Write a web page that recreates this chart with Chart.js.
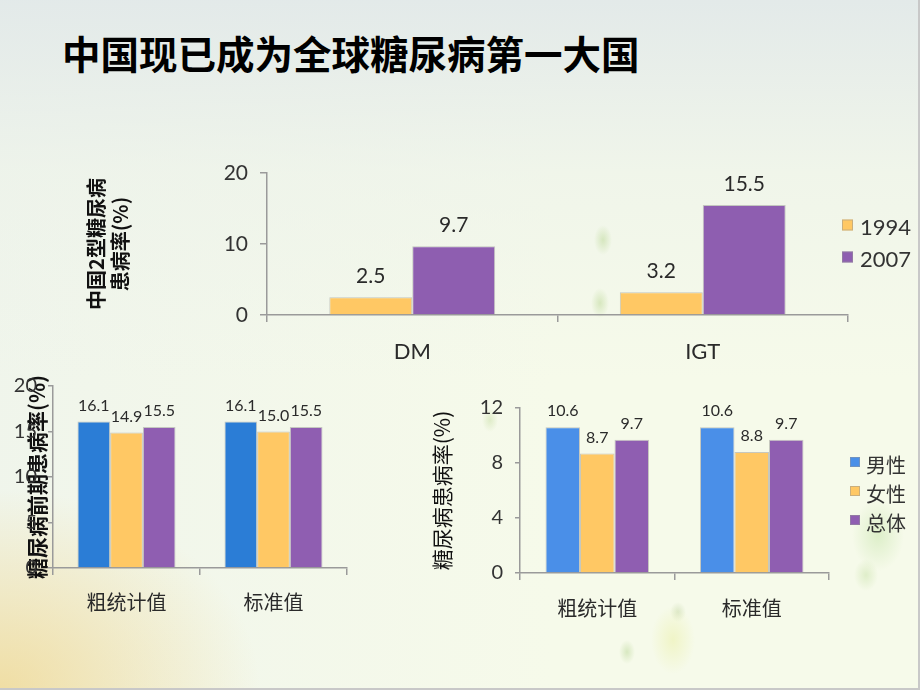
<!DOCTYPE html>
<html>
<head>
<meta charset="utf-8">
<script src="https://cdn.jsdelivr.net/npm/chart.js@4.4.1/dist/chart.umd.min.js"></script>
<style>
html,body{margin:0;padding:0;}
body{
  width:920px;height:690px;position:relative;overflow:hidden;
  background:
    radial-gradient(ellipse 9px 15px at 603px 240px, rgba(160,200,110,0.35), rgba(160,200,110,0) 100%),
    radial-gradient(ellipse 9px 15px at 600px 303px, rgba(160,200,110,0.35), rgba(160,200,110,0) 100%),
    radial-gradient(ellipse 8px 12px at 490px 420px, rgba(170,205,120,0.3), rgba(170,205,120,0) 100%),
    radial-gradient(ellipse 26px 36px at 878px 535px, rgba(190,225,160,0.45), rgba(190,225,160,0) 100%),
    radial-gradient(ellipse 12px 16px at 866px 575px, rgba(180,215,140,0.35), rgba(180,215,140,0) 100%),
    radial-gradient(ellipse 8px 12px at 627px 652px, rgba(170,205,130,0.4), rgba(170,205,130,0) 100%),
    radial-gradient(ellipse 22px 34px at 673px 640px, rgba(235,240,170,0.55), rgba(235,240,170,0) 100%),
    radial-gradient(ellipse 8px 10px at 678px 612px, rgba(190,210,160,0.45), rgba(190,210,160,0) 100%),
    radial-gradient(ellipse 260px 200px at 0px 690px, rgba(240,214,140,0.75), rgba(240,214,140,0) 100%),
    linear-gradient(180deg, rgba(226,233,233,0.95) 0%, rgba(236,242,234,0.6) 25%, rgba(244,249,232,0) 55%),
    linear-gradient(90deg, rgba(236,242,236,0.6) 0%, rgba(246,250,238,0) 60%),
    #f6faea;
}
#frame{position:absolute;left:0;top:0;width:918px;height:688px;border-right:2px solid #c8c8c8;border-bottom:2px solid #c8c8c8;pointer-events:none;}
#title{position:absolute;left:62px;top:33px;margin:0;font-family:'Noto Sans CJK SC',sans-serif;font-weight:bold;font-size:38.5px;line-height:38px;color:#000;letter-spacing:0;white-space:nowrap;}
canvas{position:absolute;left:0;top:0;}
</style>
</head>
<body>
<div id="title">中国现已成为全球糖尿病第一大国</div>
<canvas id="c1" width="920" height="690"></canvas>
<canvas id="c2" width="920" height="690"></canvas>
<canvas id="c3" width="920" height="690"></canvas>
<div id="frame"></div>
<script>
// ---------- data ----------
const topCategories = ['DM', 'IGT'];
const topSeriesNames = ['1994', '2007'];
const top1994 = [2.5, 3.2];
const top2007 = [9.7, 15.5];
const topYTitle = ['中国2型糖尿病', '患病率(%)'];

const groupCategories = ['粗统计值', '标准值'];
const groupSeriesNames = ['男性', '女性', '总体'];
const preMale = [16.1, 16.1];
const preFemale = [14.9, 15.0];
const preTotal = [15.5, 15.5];
const preYTitle = '糖尿病前期患病率(%)';

const dmMale = [10.6, 10.6];
const dmFemale = [8.7, 8.8];
const dmTotal = [9.7, 9.7];
const dmYTitle = '糖尿病患病率(%)';

// ---------- helpers ----------
const NUM_FONT = "Lato, 'Noto Sans CJK SC', sans-serif";
const CJK_FONT = "'Noto Sans CJK SC', sans-serif";
const AXIS_COLOR = '#9a9a9a';
const TEXT_COLOR = '#2a2a2a';

const valueLabels = {
  id: 'valueLabels',
  afterDatasetsDraw(chart, args, opts) {
    const ctx = chart.ctx;
    ctx.save();
    ctx.font = opts.font;
    ctx.fillStyle = opts.color;
    ctx.textAlign = 'center';
    ctx.textBaseline = 'middle';
    chart.data.datasets.forEach((ds, di) => {
      const meta = chart.getDatasetMeta(di);
      meta.data.forEach((el, i) => {
        ctx.fillText(ds.data[i].toFixed(1), el.x, el.y - opts.offset);
      });
    });
    ctx.restore();
  }
};

const sideLegend = {
  id: 'sideLegend',
  afterDraw(chart, args, opts) {
    if (!opts || !opts.show) return;
    const ctx = chart.ctx;
    ctx.save();
    ctx.font = opts.font;
    ctx.textBaseline = 'middle';
    ctx.textAlign = 'left';
    chart.data.datasets.forEach((ds, i) => {
      const cy = opts.y + i * opts.row;
      ctx.fillStyle = ds.backgroundColor;
      ctx.fillRect(opts.x, cy - opts.box / 2 + opts.boxShift, opts.box, opts.box);
      ctx.strokeStyle = 'rgba(150,150,150,0.5)';
      ctx.lineWidth = 1;
      ctx.strokeRect(opts.x + 0.5, cy - opts.box / 2 + opts.boxShift + 0.5, opts.box - 1, opts.box - 1);
      ctx.fillStyle = opts.color;
      ctx.fillText(ds.label, opts.textX, cy);
    });
    ctx.restore();
  }
};

function makeBarChart(id, cfg) {
  const a = cfg.area;
  const xH = 60;
  const yW = a.left - cfg.yBoxLeft;
  return new Chart(document.getElementById(id), {
    type: 'bar',
    data: {
      labels: cfg.labels,
      datasets: cfg.series.map(s => ({
        label: s.label,
        data: s.data,
        backgroundColor: s.color,
        borderColor: 'rgba(140,140,140,0.45)',
        borderWidth: 1,
        borderSkipped: 'bottom',
        categoryPercentage: cfg.catPct,
        barPercentage: 1
      }))
    },
    options: {
      responsive: false,
      animation: false,
      devicePixelRatio: 1,
      layout: { padding: { left: cfg.yBoxLeft, right: 920 - a.right, top: a.top, bottom: 690 - a.bottom - xH } },
      plugins: {
        legend: { display: false },
        tooltip: { enabled: false },
        valueLabels: cfg.valueLabels,
        sideLegend: cfg.legend || { show: false }
      },
      scales: {
        x: {
          afterFit: s => { s.height = xH; },
          grid: { display: true, drawOnChartArea: false, drawTicks: true, tickLength: cfg.xTick, color: AXIS_COLOR, lineWidth: 1.5 },
          border: { display: true, color: AXIS_COLOR, width: 1.5 },
          ticks: { font: cfg.xFont, color: TEXT_COLOR, padding: cfg.xPad, maxRotation: 0, autoSkip: false }
        },
        y: {
          min: 0, max: cfg.yMax,
          afterFit: s => { s.width = yW; },
          grid: { display: true, drawOnChartArea: false, drawTicks: true, tickLength: cfg.yTick, color: AXIS_COLOR, lineWidth: 1.5 },
          border: { display: true, color: AXIS_COLOR, width: 1.5 },
          ticks: { stepSize: cfg.yStep, font: cfg.yFont, color: '#333', padding: cfg.yPad },
          title: { display: true, text: cfg.yTitle, font: cfg.yTitleFont, color: '#111', padding: { top: cfg.yTitlePad, bottom: 0 } }
        }
      }
    },
    plugins: [valueLabels, sideLegend]
  });
}

// ---------- chart 1 (top) ----------
makeBarChart('c1', {
  labels: topCategories,
  series: [
    { label: topSeriesNames[0], data: top1994, color: '#FFC864' },
    { label: topSeriesNames[1], data: top2007, color: '#8E5EB0' }
  ],
  area: { left: 267, right: 848, top: 173, bottom: 315 },
  yBoxLeft: 84, yTitlePad: 0,
  catPct: 0.571,
  yMax: 20, yStep: 10,
  yTick: 7, yPad: 12,
  xTick: 7, xPad: 17,
  yFont: { family: NUM_FONT, size: 21 },
  xFont: { family: NUM_FONT, size: 22 },
  yTitle: topYTitle,
  yTitleFont: { family: CJK_FONT, size: 20, weight: 'bold', lineHeight: 1.2 },
  valueLabels: { font: '21px ' + NUM_FONT, color: TEXT_COLOR, offset: 21 },
  legend: { show: true, x: 842, y: 228, row: 32, box: 11, boxShift: -3, textX: 860, font: '22px ' + NUM_FONT, color: '#333' }
});

// ---------- chart 2 (bottom left) ----------
makeBarChart('c2', {
  labels: groupCategories,
  series: [
    { label: groupSeriesNames[0], data: preMale, color: '#2B7DD6' },
    { label: groupSeriesNames[1], data: preFemale, color: '#FFC864' },
    { label: groupSeriesNames[2], data: preTotal, color: '#8F5EB1' }
  ],
  area: { left: 53, right: 347, top: 386, bottom: 568 },
  yBoxLeft: 4, yTitlePad: 20,
  catPct: 0.667,
  yMax: 20, yStep: 5,
  yTick: 5, yPad: 11,
  xTick: 7, xPad: 15,
  yFont: { family: NUM_FONT, size: 20 },
  xFont: { family: CJK_FONT, size: 20 },
  yTitle: preYTitle,
  yTitleFont: { family: CJK_FONT, size: 21, weight: 'bold', lineHeight: 1.2 },
  valueLabels: { font: '16px ' + NUM_FONT, color: TEXT_COLOR, offset: 16 }
});

// ---------- chart 3 (bottom right) ----------
makeBarChart('c3', {
  labels: groupCategories,
  series: [
    { label: groupSeriesNames[0], data: dmMale, color: '#4A8FE8' },
    { label: groupSeriesNames[1], data: dmFemale, color: '#FFC864' },
    { label: groupSeriesNames[2], data: dmTotal, color: '#8F5EB1' }
  ],
  area: { left: 520, right: 829, top: 408, bottom: 573 },
  yBoxLeft: 429, yTitlePad: 0,
  catPct: 0.67,
  yMax: 12, yStep: 4,
  yTick: 5, yPad: 12,
  xTick: 7, xPad: 16,
  yFont: { family: NUM_FONT, size: 20 },
  xFont: { family: CJK_FONT, size: 20 },
  yTitle: dmYTitle,
  yTitleFont: { family: CJK_FONT, size: 21, lineHeight: 1.2 },
  valueLabels: { font: '16px ' + NUM_FONT, color: TEXT_COLOR, offset: 16 },
  legend: { show: true, x: 850, y: 465, row: 29, box: 10, boxShift: -3, textX: 866, font: '20px ' + CJK_FONT, color: '#333' }
});
</script>
</body>
</html>
